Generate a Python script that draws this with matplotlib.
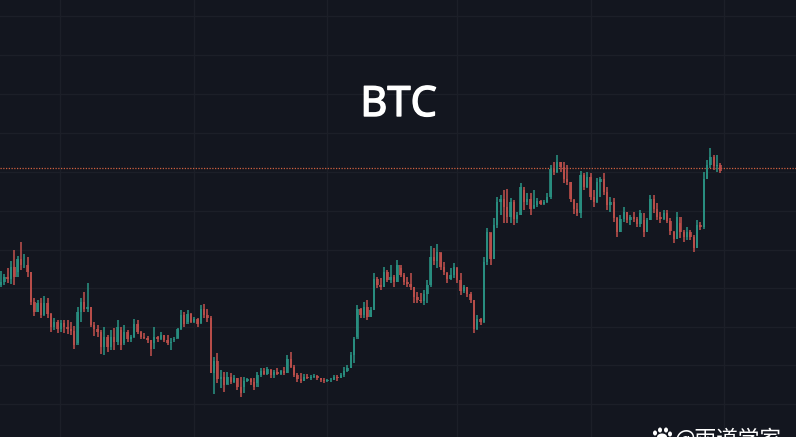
import matplotlib
matplotlib.use("Agg")
import matplotlib.pyplot as plt
import matplotlib.patheffects as pe
from matplotlib.patches import Ellipse
from matplotlib.transforms import IdentityTransform
import numpy as np

title = "BTC"
watermark = "@雨道学家"
first_open = 152
reference_price = 268.6
time_grid = [17.7, 58, 98, 137, 177, 217]
price_grid = [421, 382, 343, 304, 265, 226, 187.5, 149, 110.5, 72, 33]

high = [166,163,169,176,187,181,195,183,180,165,
        139,137,139,141,139,124,119,117,117,117,
        117,115,111,130,139,145,154,130,115,112,
        107,110,102,107,109,117,107,112,107,102,
        118,117,106,104,101,97,110,101,105,102,
        102,99,100,109,127,125,127,124,120,119,
        132,133,128,121,80,84,67,65,65,64,
        62,59,60,60,59,59,59,65,69,69,
        70,67,67,69,67,70,82,85,72,64,
        64,63,63,62,63,62,59,59,58,59,
        62,62,64,70,72,85,100,132,129,135,
        137,130,164,160,159,170,167,172,162,177,
        169,164,160,164,150,145,144,147,157,191,
        189,193,184,175,164,169,174,169,164,152,
        150,145,137,122,119,180,209,204,219,240,
        242,247,248,239,237,225,254,247,244,244,
        247,239,237,237,244,272,275,282,275,275,
        272,255,237,234,266,264,265,264,247,259,
        260,264,250,240,239,220,222,230,225,222,
        225,220,227,217,219,242,242,234,225,227,
        227,219,205,225,214,207,210,207,202,217,
        215,265,277,289,282,282,274]
low = [150,152,154,153,152,165,167,169,160,132,
       121,125,119,121,119,105,107,104,105,104,
       103,102,88,94,115,125,125,110,101,100,
       83,82,85,87,87,92,87,94,95,95,
       99,103,98,98,94,81,94,95,97,95,
       92,87,97,99,107,110,115,114,114,110,
       114,119,115,64,43,54,49,45,53,53,
       54,47,40,50,55,52,47,54,60,62,
       62,59,59,62,62,62,64,69,60,55,
       54,56,58,57,59,57,55,54,55,55,
       57,56,59,60,65,69,74,100,119,119,
       117,120,127,149,147,150,155,154,150,155,
       160,152,150,147,134,134,134,132,134,150,
       172,169,167,162,154,157,159,154,142,144,
       140,134,104,107,112,114,172,172,178,209,
       222,214,214,214,212,214,222,227,232,222,
       229,230,232,232,234,238,262,264,265,254,
       252,235,223,221,219,247,249,237,230,234,
       240,242,227,225,215,200,205,215,214,212,
       215,210,210,200,205,217,224,217,214,217,
       214,202,194,198,199,195,197,197,185,189,
       207,208,258,269,267,265,264]
close = [155,160,158,170,160,178,172,172,165,135,
         125,134,122,134,123,110,115,108,114,110,
         108,106,92,125,135,128,130,112,108,105,
         90,100,90,100,95,110,92,105,98,100,
         113,105,100,99,97,88,100,98,102,97,
         94,95,98,108,122,113,123,115,118,113,
         128,122,119,64,76,58,60,52,60,55,
         59,50,44,56,58,55,50,62,66,63,
         68,62,65,63,66,64,78,70,62,58,
         56,60,59,60,61,59,57,56,57,57,
         60,59,62,66,69,82,98,128,122,130,
         120,127,158,152,150,165,157,160,155,172,
         162,155,153,150,140,137,136,143,152,180,
         176,185,170,165,158,162,170,157,146,150,
         143,137,108,118,115,175,205,178,212,235,
         238,230,220,235,218,222,250,235,238,228,
         232,236,233,235,240,268,265,275,270,258,
         255,238,228,224,262,250,260,240,235,255,
         258,245,232,235,219,205,218,225,217,220,
         218,213,224,205,217,238,228,220,218,224,
         216,206,198,220,205,200,205,200,189,212,
         210,258,272,280,271,272,266]

BG = "#13161f"
GRID = "#1c1f28"
UP = "#2a9384"
DOWN = "#c0504c"

plt.rcParams['font.family'] = ['Noto Sans', 'Noto Sans CJK SC', 'DejaVu Sans']
fig = plt.figure(figsize=(7.96, 4.37), dpi=100, facecolor=BG)
ax = fig.add_axes([0, 0, 1, 1], facecolor=BG)
ax.set_xlim(-0.3, 238.7)
ax.set_ylim(0, 437)

ax.set_xticks(time_grid)
ax.set_yticks(price_grid)
ax.tick_params(length=0, labelbottom=False, labelleft=False)
ax.grid(True, color=GRID, lw=1)
ax.set_axisbelow(True)
for s in ax.spines.values():
    s.set_visible(False)

x = np.arange(len(close))
c = np.array(close, float)
o = np.r_[first_open, c[:-1]]
h = np.array(high, float)
l = np.array(low, float)
colors = [UP if ci >= oi else DOWN for oi, ci in zip(o, c)]

ax.vlines(x, l, h, colors=colors, lw=1.4, alpha=0.8, zorder=3)
ax.bar(x, np.abs(c - o), bottom=np.minimum(o, c), width=0.72, color=colors,
       alpha=0.8, lw=0, zorder=3)

ax.axhline(reference_price, color="#d0603f", lw=0.9, ls=(0, (1, 1.2)), zorder=2)

ax.text(398.5 / 796, 1 - 105 / 437, title, transform=ax.transAxes, color="white",
        fontsize=30, ha="center", va="center", zorder=5,
        path_effects=[pe.withStroke(linewidth=1.0, foreground="white")])

ax.text(675 / 796, -8 / 437, watermark, transform=ax.transAxes, color="white",
        fontsize=15.6, ha="left", va="baseline", clip_on=False, zorder=5,
        family=['Noto Sans CJK SC', 'DejaVu Sans'])

paw = [(655, 433, 4, 5), (660, 430, 4, 5), (666, 430, 4, 5), (670, 434, 4, 5), (662, 437, 10, 7)]
for px, py, w, ht in paw:
    fig.add_artist(Ellipse((px, 437 - py), w, ht, color="white", lw=0,
                           transform=IdentityTransform()))

fig.savefig("out.png", dpi=100, facecolor=BG)
